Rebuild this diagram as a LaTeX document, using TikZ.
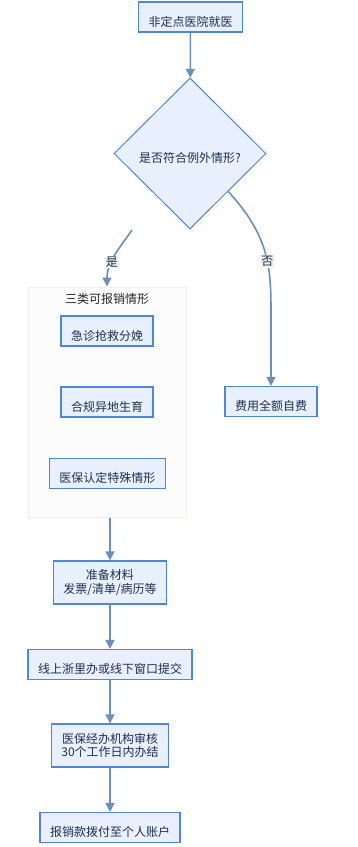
\documentclass[tikz,border=0pt]{standalone}
\usepackage{fontspec}
\setmainfont{Noto Sans CJK SC}
\usetikzlibrary{shapes.geometric,arrows.meta}
\definecolor{boxfill}{HTML}{E8F0FD}
\definecolor{boxline}{HTML}{4F86DA}
\definecolor{arrline}{HTML}{6B8EBD}
\definecolor{txtnavy}{HTML}{1F2F4F}
\definecolor{grpline}{HTML}{F2EEE9}
\tikzset{
  base/.style={rectangle, draw=boxline, fill=boxfill, line width=1.2pt, font=\fontsize{12}{13.5}\selectfont, text=txtnavy, inner xsep=10pt},
  box/.style={base, inner ysep=5pt, text height=19pt, text depth=1pt},
  box2/.style={base, align=center, inner ysep=0pt, minimum height=43pt},
  dec/.style={diamond, draw=boxline, fill=boxfill, line width=1pt, minimum width=152pt, minimum height=151pt, inner sep=0pt, text height=18pt, text depth=0pt, font=\fontsize{12}{13.5}\selectfont, text=txtnavy},
  grp/.style={rectangle, draw=grpline, fill=black!1, line width=1pt, minimum width=158pt, minimum height=230pt},
  lbl/.style={fill=black!6, text=txtnavy, font=\fontsize{12}{13.5}\selectfont, inner sep=1pt},
  arr/.style={draw=arrline, line width=1.6pt, -{Triangle[length=9pt,width=9pt]}}
}
\begin{document}
\begin{tikzpicture}[x=1pt,y=-1pt]
\useasboundingbox (0,0) rectangle (358,847);
\node[box] (visit) at (190.5,17) {非定点医院就医};
\node[dec] (check) at (190,153.5) {是否符合例外情形?};
\node[box] (selfpay) at (271,401.5) {费用全额自费};
\node[grp] (cases) at (107,402) {};
\node[font=\fontsize{12}{13.5}\selectfont, text=black!85] (casestitle) at (107,299) {三类可报销情形};
\node[box] (emerg) at (107,331) {急诊抢救分娩};
\node[box] (birth) at (107,402) {合规异地生育};
\node[box] (special) at (107.5,473.5) {医保认定特殊情形};
\node[box2] (prep) at (110,582.5) {准备材料\\发票/清单/病历等};
\node[box] (submit) at (110,664.5) {线上浙里办或线下窗口提交};
\node[box2] (audit) at (110,745.5) {医保经办机构审核\\30个工作日内办结};
\node[box] (pay) at (110,827.5) {报销款拨付至个人账户};
\coordinate (yesfrom) at (132,230);

\draw[arr] (visit) -- (check);
\draw[arr] (yesfrom) to[out=235,in=90] node[lbl,pos=0.6] (yeslbl) {是} (cases.north);
\draw[arr] (check.south east) .. controls (268,235) and (271,265) .. node[lbl,pos=0.6] (nolbl) {否} ([yshift=75pt]selfpay.north) -- (selfpay.north);
\draw[arr] (cases.south -| prep.north) -- (prep.north);
\draw[arr] (prep) -- (submit);
\draw[arr] (submit) -- (audit);
\draw[arr] (audit) -- (pay);
\end{tikzpicture}
\end{document}
